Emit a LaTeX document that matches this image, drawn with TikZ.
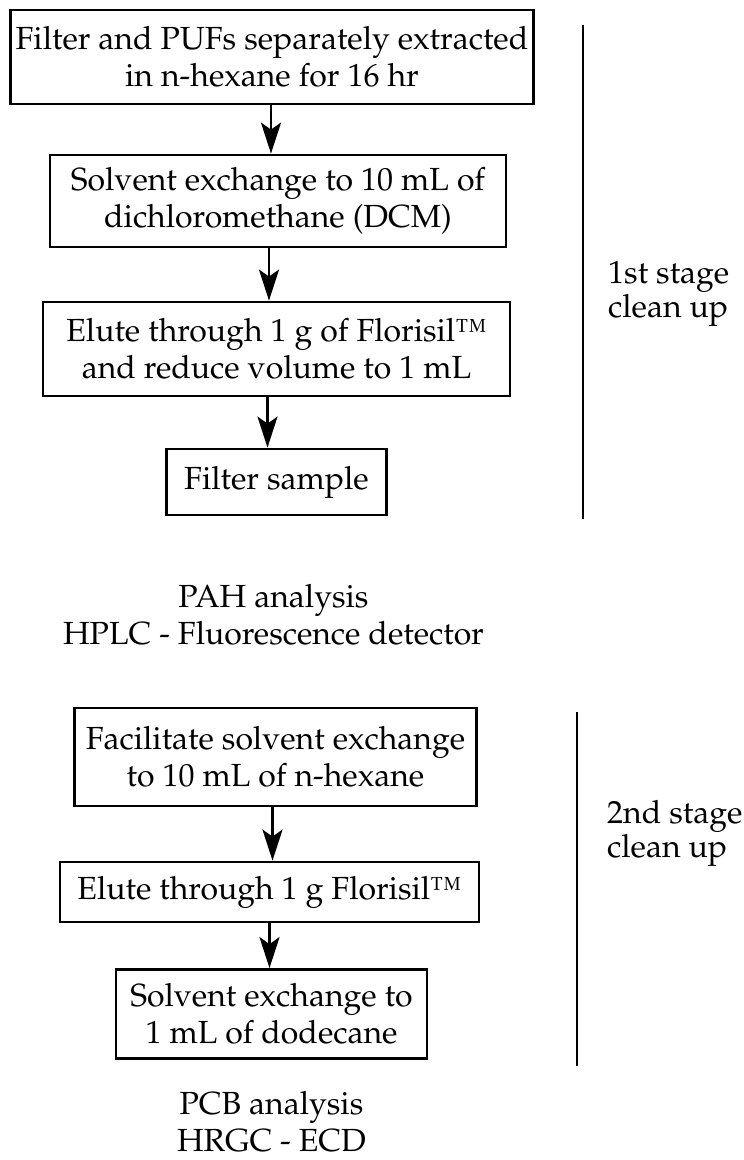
\documentclass[tikz,border=0pt]{standalone}
\usepackage[T1]{fontenc}
\usepackage{mathpazo}
\usetikzlibrary{positioning, arrows.meta}
\tikzset{
>={Stealth[length=31pt, width=20pt, inset=7pt]}, % long narrow heads
node distance=144pt, % centre to centre, changed per node below
every node/.style={font=\fontsize{32}{37}\selectfont},
procbox/.style={draw, line width=2.8pt, align=center, inner sep=0pt}, % boxed steps
result/.style={align=center, inner sep=0pt}, % analysis lines, no frame
stage text/.style={align=left, anchor=west, inner sep=0pt, font=\fontsize{32}{34}\selectfont},
flow/.style={->, line width=2.8pt},
stagebar/.style={line width=2.6pt},
}
\begin{document}
\begin{tikzpicture}[x=1pt, y=-1pt]
\useasboundingbox (0,0) rectangle (744,1160);

            \node[procbox, minimum width=523pt, minimum height=94pt] (extract) at (272,57) {Filter and PUFs separately extracted\\in n-hexane for 16 hr};
            \node[procbox, below of=extract, xshift=6pt, minimum width=456pt, minimum height=92pt] (dcm) {Solvent exchange to 10 mL of\\dichloromethane (DCM)};
            \node[procbox, below of=dcm, node distance=148pt, xshift=-1.5pt, minimum width=467pt, minimum height=94pt] (elute1) {Elute through 1 g of Florisil\texttrademark\\and reduce volume to 1 mL};
            \node[procbox, below of=elute1, node distance=133pt, minimum width=220pt, minimum height=66pt] (filter) {Filter sample};
            \node[result, below of=filter, node distance=133pt, xshift=-3pt] (pah) {PAH analysis\\HPLC - Fluorescence detector};
            \node[procbox, below of=pah, node distance=142pt, xshift=2pt, minimum width=402pt, minimum height=98pt] (hexane) {Facilitate solvent exchange\\to 10 mL of n-hexane};
            \node[procbox, below of=hexane, node distance=135pt, xshift=-6pt, minimum width=419pt, minimum height=60pt] (elute2) {Elute through 1 g Florisil\texttrademark};
            \node[procbox, below of=elute2, node distance=122pt, xshift=2pt, minimum width=311pt, minimum height=89pt] (dodecane) {Solvent exchange to\\1 mL of dodecane};
            \node[result, below of=dodecane, node distance=108pt] (pcb) {PCB analysis\\HRGC - ECD};

            % stage brackets on the right
            \coordinate (bar1 top) at (583,25);
            \coordinate (bar1 bottom) at (583,519);
            \coordinate (bar2 top) at (577,712);
            \coordinate (bar2 bottom) at (577,1066);
            \node[stage text] (stage1) at (608,294) {1st stage\\clean up};
            \node[stage text] (stage2) at (607,833) {2nd stage\\clean up};

            \draw[flow]   ([xshift=-1pt]extract.south) -- ([xshift=-1pt]extract.south |- dcm.north);
            \draw[flow]   ([xshift=-9pt]dcm.south) -- ([xshift=-9pt]dcm.south |- elute1.north);
            \draw[flow]   ([xshift=-9pt]elute1.south) -- ([xshift=-9pt]elute1.south |- filter.north);
            \draw[flow]   ([xshift=-3pt]hexane.south) -- ([xshift=-3pt]hexane.south |- elute2.north);
            \draw[flow]   ([xshift=0pt]elute2.south) -- ([xshift=0pt]elute2.south |- dodecane.north);
            \draw[stagebar] (bar1 top) -- (bar1 bottom);
            \draw[stagebar] (bar2 top) -- (bar2 bottom);
        \end{tikzpicture}
\end{document}
